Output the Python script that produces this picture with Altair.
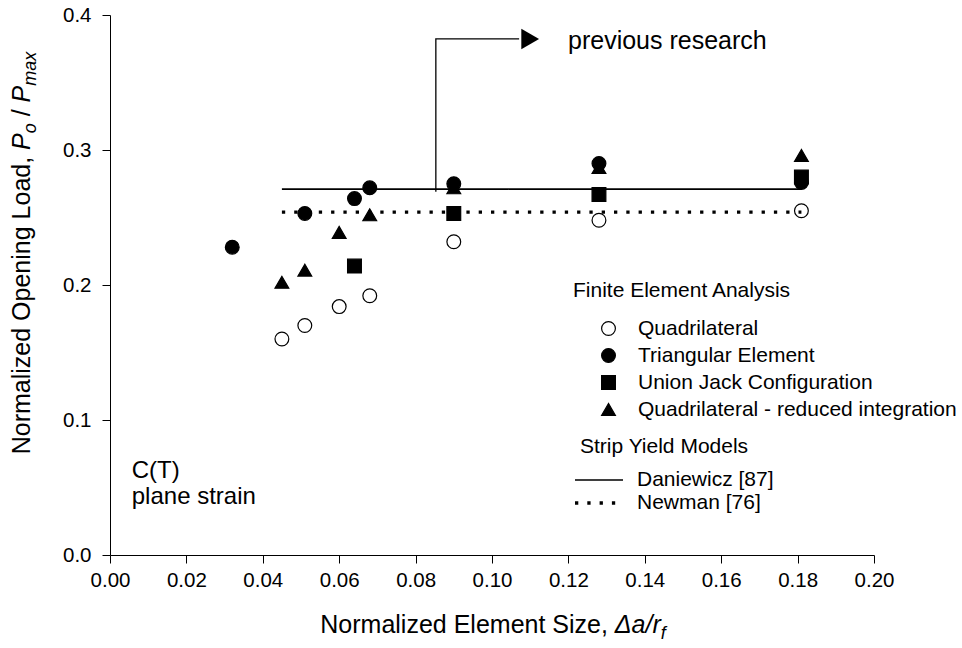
import altair as alt
import pandas as pd

FONT = "Liberation Sans"

# ---- data ----
fe_order = ["Quadrilateral", "Triangular Element", "Union Jack Configuration",
            "Quadrilateral - reduced integration"]
fe_fill = ["transparent", "black", "black", "black"]
fe_shape = ["circle", "circle", "square", "triangle-up"]

x_quad = [0.045, 0.051, 0.060, 0.068, 0.090, 0.128, 0.181]
y_quad = [0.160, 0.170, 0.184, 0.192, 0.232, 0.248, 0.255]

x_tri = [0.032, 0.051, 0.064, 0.068, 0.090, 0.128, 0.181]
y_tri = [0.228, 0.253, 0.264, 0.272, 0.275, 0.290, 0.276]

x_uj = [0.064, 0.090, 0.128, 0.181]
y_uj = [0.214, 0.253, 0.267, 0.280]

x_red = [0.045, 0.051, 0.060, 0.068, 0.090, 0.128, 0.181]
y_red = [0.202, 0.211, 0.239, 0.252, 0.272, 0.287, 0.296]

models = ["Daniewicz [87]", "Newman [76]"]
model_x = [0.045, 0.181]
model_y = [0.271, 0.254]
model_dash = [[1, 0], [3.3, 9]]
model_width = [1.6, 3.3]

x_ticks = [0.00, 0.02, 0.04, 0.06, 0.08, 0.10, 0.12, 0.14, 0.16, 0.18, 0.20]
y_ticks = [0.0, 0.1, 0.2, 0.3, 0.4]

# arrow "previous research"
arrow_x = [0.0853, 0.0853, 0.1071]
arrow_y = [0.269, 0.3823, 0.3823]
arrow_head = (0.1100, 0.3823)

# ---- build tables ----
rows = []
for name, xs, ys, z in [(fe_order[0], x_quad, y_quad, 0),
                        (fe_order[3], x_red, y_red, 1),
                        (fe_order[2], x_uj, y_uj, 2),
                        (fe_order[1], x_tri, y_tri, 3)]:
    for xv, yv in zip(xs, ys):
        rows.append({"x": xv, "y": yv, "series": name, "z": z})
df_pts = pd.DataFrame(rows)

line_rows = []
for m, yv in zip(models, model_y):
    for xv in model_x:
        line_rows.append({"x": xv, "y": yv, "model": m})
df_lines = pd.DataFrame(line_rows)

df_arrow = pd.DataFrame({"x": arrow_x, "y": arrow_y, "o": list(range(len(arrow_x)))})
df_head = pd.DataFrame({"x": [arrow_head[0]], "y": [arrow_head[1]]})

W_PLOT, H_PLOT = 764, 540
xscale = alt.Scale(domain=[0, 0.2], nice=False, zero=False)
yscale = alt.Scale(domain=[0, 0.4], nice=False, zero=False)
xaxis = alt.Axis(values=x_ticks, format=".2f", title=None, labelPadding=7, labelFlush=False)
yaxis = alt.Axis(values=y_ticks, format=".1f", title=None, labelPadding=11, labelFlush=False)

X = alt.X("x:Q", scale=xscale, axis=xaxis)
Y = alt.Y("y:Q", scale=yscale, axis=yaxis)

LEG_FS = 21
fe_legend = alt.Legend(
    title="Finite Element Analysis", orient="none", legendX=463, legendY=265,
    padding=0, titleFont=FONT, titleFontSize=LEG_FS, titleFontWeight="normal",
    titleColor="black", titlePadding=17, titleLimit=0, labelFont=FONT, labelFontSize=LEG_FS,
    labelColor="black", labelOffset=19, labelLimit=0, symbolOffset=25, symbolSize=190,
    symbolStrokeColor="black", symbolStrokeWidth=1.2, rowPadding=5)

pts = alt.Chart(df_pts).mark_point(filled=True, size=190, strokeWidth=1.2, opacity=1).encode(
    x=X, y=Y,
    shape=alt.Shape("series:N", scale=alt.Scale(domain=fe_order, range=fe_shape),
                    legend=fe_legend),
    fill=alt.Fill("series:N", scale=alt.Scale(domain=fe_order, range=fe_fill),
                  legend=fe_legend),
    stroke=alt.Stroke("series:N", scale=alt.Scale(domain=fe_order, range=["black"] * 4),
                      legend=fe_legend),
    order=alt.Order("z:Q"),
)

lines = alt.Chart(df_lines).mark_line(color="black").encode(
    x=X, y=Y,
    strokeDash=alt.StrokeDash("model:N", scale=alt.Scale(domain=models, range=model_dash),
                              legend=None),
    strokeWidth=alt.StrokeWidth("model:O", scale=alt.Scale(domain=models, range=model_width),
                                legend=None),
)

# manual legend for the strip yield models (pixel layout)
SY_TITLE = (470, 432)
SY_ROWS = [465, 488]
SY_LINE_X = (465, 513)
SY_LABEL_X = 527

def ptext(text, px, py, fs, baseline="middle"):
    d = pd.DataFrame({"t": [text]})
    return alt.Chart(d).mark_text(font=FONT, fontSize=fs, align="left", baseline=baseline,
                                  color="black").encode(
        x=alt.value(px), y=alt.value(py), text="t:N")

sy_parts = [ptext("Strip Yield Models", SY_TITLE[0], SY_TITLE[1], LEG_FS)]
for m, dash, wdt, ry in zip(models, model_dash, model_width, SY_ROWS):
    d = pd.DataFrame({"m": [m]})
    sy_parts.append(alt.Chart(d).mark_rule(color="black", strokeWidth=wdt, strokeDash=dash).encode(
        x=alt.value(SY_LINE_X[0]), x2=alt.value(SY_LINE_X[1]), y=alt.value(ry)))
    sy_parts.append(ptext(m, SY_LABEL_X, ry, LEG_FS))

arrow = alt.Chart(df_arrow).mark_line(color="black", strokeWidth=1.3).encode(
    x=X, y=Y, order="o:Q")
head = alt.Chart(df_head).mark_point(shape="triangle-right", size=420, filled=True,
                                     color="black", opacity=1).encode(x=X, y=Y)

def ann(text, xv, yv, fs):
    d = pd.DataFrame({"x": [xv], "y": [yv], "t": [text]})
    return alt.Chart(d).mark_text(font=FONT, fontSize=fs, align="left",
                                  baseline="alphabetic", color="black").encode(
        x=X, y=Y, text="t:N")

ann_prev = ann("previous research", 0.1199, 0.3746, 25)
ann_ct = ann("C(T)", 0.0057, 0.0567, 24)
ann_ps = ann("plane strain", 0.0057, 0.0375, 24)

# ---- axis titles with italic parts and subscripts (Arial metrics) ----
AW = {' ': 278, ',': 278, '/': 278, '.': 278, '-': 333, 'N': 722, 'O': 778,
      'L': 556, 'P': 667, 'E': 667, 'S': 667, 'a': 556, 'd': 556, 'e': 556, 'f': 278,
      'g': 556, 'i': 222, 'l': 222, 'm': 833, 'n': 556, 'o': 556, 'p': 556, 'r': 333,
      't': 278, 'x': 500, 'z': 500, 'Δ': 668}

def tw(s, fs):
    return sum(AW.get(c, 556) for c in s) / 1000 * fs

TITLE_FS = 25
SUB_FS = 18
SUB_OFF = 6
SP = 0.278 * TITLE_FS

def seg(text, px, py, fs, italic, angle=None):
    d = pd.DataFrame({"t": [text]})
    kw = dict(font=FONT, fontSize=fs, align="left", baseline="alphabetic", color="black")
    if italic:
        kw["fontStyle"] = "italic"
    if angle is not None:
        kw["angle"] = angle
    return alt.Chart(d).mark_text(**kw).encode(
        x=alt.value(px), y=alt.value(py), text="t:N")

# segments: (text, font size, italic, subscript offset, gap before)
xsegs = [("Normalized Element Size,", TITLE_FS, False, 0, 0),
         ("Δa/r", TITLE_FS, True, 0, SP),
         ("f", SUB_FS, True, SUB_OFF, 0)]
xtot = sum(tw(s, fs) + g for s, fs, _, _, g in xsegs)
cx, by = 383, 618
xpos = cx - xtot / 2
xtitle = []
for s, fs, it, off, g in xsegs:
    xpos += g
    xtitle.append(seg(s, xpos, by + off, fs, it))
    xpos += tw(s, fs)

ysegs = [("Normalized Opening Load,", TITLE_FS, False, 0, 0),
         ("P", TITLE_FS, True, 0, SP),
         ("o", SUB_FS, True, SUB_OFF, 0),
         ("/", TITLE_FS, False, 0, SP),
         ("P", TITLE_FS, True, 0, SP),
         ("max", SUB_FS, True, SUB_OFF, 0)]
ytot = sum(tw(s, fs) + g for s, fs, _, _, g in ysegs)
cy, bx = 238, -80
ypos = cy + ytot / 2
ytitle = []
for s, fs, it, off, g in ysegs:
    ypos -= g
    ytitle.append(seg(s, bx + off, ypos, fs, it, angle=270))
    ypos -= tw(s, fs)

chart = alt.layer(lines, arrow, head, pts, ann_prev, ann_ct, ann_ps,
                  *sy_parts, *xtitle, *ytitle).properties(
    width=W_PLOT, height=H_PLOT, autosize=alt.AutoSizeParams(type="none"),
    padding={"left": 110, "top": 15, "right": 88, "bottom": 93},
    background="white",
).configure_view(stroke=None).configure_axis(
    grid=False, domainColor="black", domainWidth=1, tickColor="black", tickWidth=1,
    tickSize=8, labelColor="black", labelFont=FONT, labelFontSize=20.5,
)

chart.save("out.html", embed_options={"renderer": "svg", "actions": False})
